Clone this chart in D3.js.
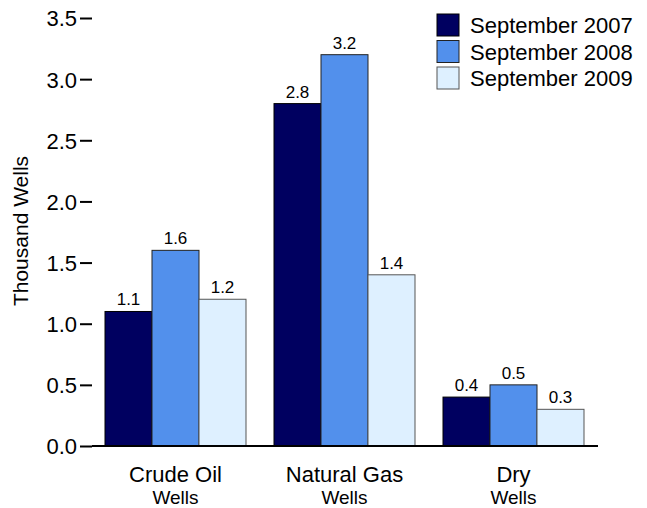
<!DOCTYPE html>
<html>
<head>
<meta charset="utf-8">
<script src="https://cdn.jsdelivr.net/npm/d3@7"></script>
<style>
  body { margin: 0; background: #fff; }
  text { font-family: "Liberation Sans", Arial, sans-serif; fill: #000; }
</style>
</head>
<body>
<svg id="chart" width="647" height="508"></svg>
<script>
const categories = ["Crude Oil", "Natural Gas", "Dry"];
const subLabels = ["Wells", "Wells", "Wells"];
const seriesNames = ["September 2007", "September 2008", "September 2009"];
const sep2007 = [1.1, 2.8, 0.4];
const sep2008 = [1.6, 3.2, 0.5];
const sep2009 = [1.2, 1.4, 0.3];
const yTicks = [0, 0.5, 1.0, 1.5, 2.0, 2.5, 3.0, 3.5];
const colors = ["#000060", "#5290ec", "#def0ff"];
const strokes = ["#000", "#222", "#555"];

const series = [sep2007, sep2008, sep2009];
const svg = d3.select("#chart");

// plot area
const plotL = 92, plotR = 598, plotT = 18, plotB = 446;

const y = d3.scaleLinear().domain([0, 3.5]).range([plotB, plotT]);
const x0 = d3.scaleBand().domain(categories).range([20.5, 668.5]).paddingInner(0.1657).paddingOuter(0.5);
const x1 = d3.scaleBand().domain(seriesNames).range([0, x0.bandwidth()]);

// y axis: ticks only, no domain line
const yAxis = d3.axisLeft(y).tickValues(yTicks).tickFormat(d3.format(".1f")).tickSize(12).tickPadding(3);
const ga = svg.append("g").attr("transform", `translate(${plotL},0)`).call(yAxis);
ga.select(".domain").remove();
ga.selectAll(".tick line").attr("stroke", "#000").attr("stroke-width", 2);
ga.selectAll(".tick text")
  .style("font-size", "22px")
  .style("font-family", "Liberation Sans, Arial, sans-serif")
  .attr("dy", "0.36em");

svg.append("text")
  .attr("transform", "translate(28,231) rotate(-90)")
  .attr("text-anchor", "middle")
  .style("font-size", "21px")
  .text("Thousand Wells");

// bars
const groups = svg.selectAll("g.grp")
  .data(categories)
  .join("g")
  .attr("class", "grp")
  .attr("transform", d => `translate(${x0(d)},0)`);

groups.selectAll("rect")
  .data((d, i) => series.map((s, j) => ({ name: seriesNames[j], v: s[i], j })))
  .join("rect")
  .attr("x", d => x1(d.name))
  .attr("y", d => y(d.v))
  .attr("width", x1.bandwidth())
  .attr("height", d => y(0) - y(d.v))
  .attr("fill", d => colors[d.j])
  .attr("stroke", d => strokes[d.j])
  .attr("stroke-width", 1);

groups.selectAll("text.val")
  .data((d, i) => series.map((s, j) => ({ name: seriesNames[j], v: s[i], j })))
  .join("text")
  .attr("class", "val")
  .attr("x", d => x1(d.name) + x1.bandwidth() / 2)
  .attr("y", d => y(d.v) - 6)
  .attr("text-anchor", "middle")
  .style("font-size", "17px")
  .text(d => d3.format(".1f")(d.v));

// baseline
svg.append("line")
  .attr("x1", plotL).attr("x2", plotR)
  .attr("y1", y(0)).attr("y2", y(0))
  .attr("stroke", "#000").attr("stroke-width", 2);

// category labels
categories.forEach((c, i) => {
  const cx = x0(c) + x0.bandwidth() / 2;
  svg.append("text").attr("x", cx).attr("y", 482).attr("text-anchor", "middle")
    .style("font-size", "22px").text(c);
  svg.append("text").attr("x", cx).attr("y", 504).attr("text-anchor", "middle")
    .style("font-size", "19px").text(subLabels[i]);
});

// legend
const lg = svg.append("g").attr("transform", "translate(437,14)");
seriesNames.forEach((n, i) => {
  lg.append("rect").attr("x", 0).attr("y", i * 26.5).attr("width", 22).attr("height", 22)
    .attr("fill", colors[i]).attr("stroke", strokes[i]).attr("stroke-width", 1);
  lg.append("text").attr("x", 33).attr("y", i * 26.5 + 19)
    .style("font-size", "22px").text(n);
});
</script>
</body>
</html>
